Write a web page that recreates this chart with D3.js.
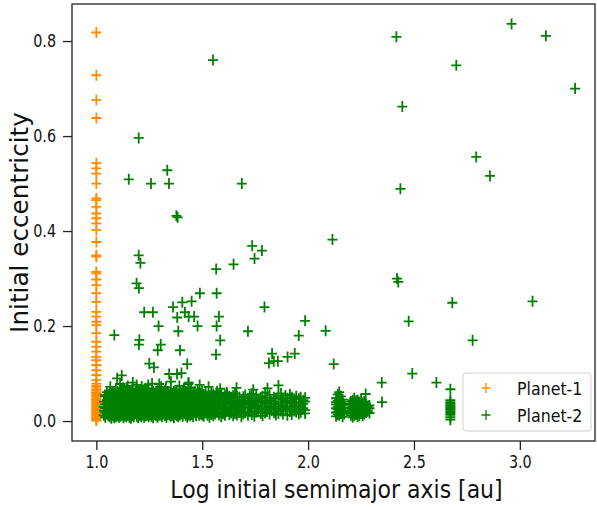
<!DOCTYPE html>
<html>
<head>
<meta charset="utf-8">
<script src="https://cdn.jsdelivr.net/npm/d3@7"></script>
<style>
  body { margin: 0; background: #fff; }
  svg { display: block; font-family: "DejaVu Sans", sans-serif; }
</style>
</head>
<body>
<div id="wrapper"></div>
<script>
// tick values
const xTicks = [1.0, 1.5, 2.0, 2.5, 3.0]
const yTicks = [0.0, 0.2, 0.4, 0.6, 0.8]

// Planet-1: all at log a = 1.0, eccentricities
const p1X = 1.0
const p1Ecc = [0.818, 0.728, 0.676, 0.638, 0.543, 0.532, 0.521, 0.500, 0.469, 0.465,
  0.451, 0.437, 0.427, 0.416, 0.402, 0.377, 0.349, 0.346, 0.314, 0.311, 0.298, 0.286,
  0.269, 0.251, 0.230, 0.220, 0.209, 0.202, 0.185, 0.167, 0.156, 0.146, 0.135, 0.128,
  0.118, 0.107, 0.097, 0.086, 0.079, 0.074, 0.072, 0.067, 0.065, 0.061, 0.059, 0.056,
  0.053, 0.051, 0.047, 0.045, 0.043, 0.040, 0.037, 0.034, 0.032, 0.029, 0.027, 0.024,
  0.021, 0.019, 0.016, 0.013, 0.011, 0.008, 0.006, 0.003, 0.001]

// Planet-2: scattered points [log a, e]
const p2Scatter = [
  [1.200, 0.596], [1.153, 0.509], [1.258, 0.500], [1.335, 0.528], [1.343, 0.500],
  [1.378, 0.432], [1.384, 0.429], [1.551, 0.760], [1.687, 0.500], [1.736, 0.369],
  [1.782, 0.359], [1.747, 0.342], [1.648, 0.330], [1.566, 0.320], [1.200, 0.349],
  [1.208, 0.333], [1.190, 0.290], [1.201, 0.280], [1.489, 0.269], [1.568, 0.269],
  [1.406, 0.250], [1.450, 0.252], [1.362, 0.240], [1.794, 0.240], [1.226, 0.229],
  [1.267, 0.229], [1.418, 0.229], [1.382, 0.218], [1.436, 0.220], [1.462, 0.220],
  [1.579, 0.220], [1.986, 0.211], [1.294, 0.200], [1.478, 0.200], [1.568, 0.200],
  [1.387, 0.189], [1.716, 0.189], [1.085, 0.181], [1.956, 0.180], [1.203, 0.171],
  [1.201, 0.161], [1.304, 0.161], [1.585, 0.170], [1.290, 0.149], [1.395, 0.149],
  [1.565, 0.140], [1.830, 0.142], [1.937, 0.142], [1.903, 0.135], [1.250, 0.121],
  [1.272, 0.113], [1.344, 0.099], [1.381, 0.099], [1.402, 0.101], [1.429, 0.120],
  [1.098, 0.090], [1.120, 0.096], [1.436, 0.081], [1.297, 0.078], [1.434, 0.078],
  [1.543, 0.060], [1.618, 0.057], [1.190, 0.076], [1.245, 0.076], [1.041, 0.055],
  [2.961, 0.836], [3.123, 0.811], [2.417, 0.809], [2.700, 0.749], [3.261, 0.700],
  [2.445, 0.662], [2.794, 0.556], [2.859, 0.516], [2.436, 0.489], [2.115, 0.382],
  [2.420, 0.300], [2.426, 0.293], [2.681, 0.249], [3.060, 0.252], [2.475, 0.210],
  [2.083, 0.190], [2.777, 0.170], [2.121, 0.120], [1.860, 0.075], [2.348, 0.081],
  [2.492, 0.100], [2.606, 0.081], [2.349, 0.040], [1.815, 0.122], [1.838, 0.126],
  [1.857, 0.126], [2.272, 0.057], [2.672, 0.067]
]

// Planet-2: ragged top of the low-e band [log a, e]
const p2Upper = [
  [1.066, 0.072], [1.112, 0.078], [1.148, 0.074], [1.172, 0.081], [1.214, 0.073],
  [1.263, 0.079], [1.306, 0.072], [1.352, 0.083], [1.392, 0.074], [1.447, 0.071],
  [1.488, 0.076], [1.530, 0.072], [1.585, 0.068], [1.662, 0.070], [1.741, 0.066],
  [1.808, 0.069], [1.126, 0.070], [1.231, 0.069], [1.328, 0.071], [1.414, 0.068]
]

// Planet-2: dense low-e band, per column of log a, e in thousandths
const p2Band = [
  [1.035, "22 41 30 12"], [1.042, "35 18 52 27 8"], [1.050, "44 15 29 61 37 21"],
  [1.057, "11 33 48 25 56 39 19"], [1.063, "28 9 42 54 17 35 63"],
  [1.071, "38 22 14 47 58 30 6 51"], [1.078, "19 45 33 62 26 11 40 55"],
  [1.085, "31 7 49 24 58 16 38 44"], [1.092, "13 36 52 27 65 20 43 9"],
  [1.100, "41 25 18 57 33 11 48 62 29"], [1.107, "23 50 37 14 60 31 8 45"],
  [1.114, "34 17 55 28 42 63 10 21 47"], [1.121, "46 26 12 39 58 19 33 67"],
  [1.128, "15 38 53 29 7 44 22 61"], [1.135, "27 49 18 36 64 11 41 56 31"],
  [1.142, "40 21 57 33 9 48 16 70"], [1.149, "12 35 46 24 59 30 43 18 52"],
  [1.156, "29 54 17 41 8 63 36 22"], [1.163, "44 23 60 32 14 50 27 39 6"],
  [1.170, "18 37 52 26 66 11 45 31"], [1.177, "33 9 47 21 58 38 15 55 25"],
  [1.184, "51 28 16 42 62 35 20 46"], [1.191, "24 43 10 57 31 49 17 37 64"],
  [1.198, "39 19 53 28 7 45 34 60"], [1.205, "14 48 32 23 61 40 12 55 27"],
  [1.212, "42 26 58 16 35 50 9 30"], [1.219, "30 51 21 44 13 64 37 25 47"],
  [1.226, "55 18 39 27 48 8 33 62"], [1.233, "21 46 34 59 15 41 28 52 11"],
  [1.240, "36 12 50 25 68 43 19 31"], [1.247, "47 29 16 56 38 22 61 9 44"],
  [1.254, "26 53 35 13 45 30 58 18"], [1.261, "41 20 60 32 10 49 27 37 54"],
  [1.268, "17 44 29 57 23 38 7 63"], [1.275, "52 33 14 46 27 59 40 20 35"],
  [1.282, "28 48 19 37 62 11 43 25"], [1.289, "39 15 55 30 45 21 66 34 8"],
  [1.296, "24 50 36 17 58 41 29 12"], [1.303, "45 27 61 33 13 49 22 54 38"],
  [1.310, "19 42 31 56 26 9 47 35"], [1.317, "34 57 22 44 15 60 29 40"],
  [1.324, "48 16 38 27 53 32 11 64 43"], [1.331, "23 46 35 59 18 41 8 30"],
  [1.338, "37 20 52 28 45 14 62 33 50"], [1.345, "13 43 30 57 24 39 19 48"],
  [1.352, "50 26 40 16 61 32 46 10 35"], [1.359, "29 54 21 44 37 12 58 25"],
  [1.366, "42 18 33 63 27 49 7 39"], [1.373, "22 47 36 14 55 31 44 19 60"],
  [1.380, "35 11 51 28 42 24 65 16"], [1.387, "46 30 20 57 38 9 49 33"],
  [1.394, "17 40 27 61 45 22 53 13 36"], [1.401, "31 55 41 15 26 48 37 59"],
  [1.408, "44 21 34 62 29 10 51 25"], [1.415, "25 49 16 38 57 33 43 19"],
  [1.422, "39 12 52 27 46 21 63 31"], [1.429, "53 34 24 44 15 58 8 37"],
  [1.436, "20 45 30 60 36 13 50 27"], [1.443, "33 56 18 41 26 48 11 62"],
  [1.450, "47 23 39 14 54 31 43"], [1.457, "16 40 58 28 35 9 50 22"],
  [1.464, "38 26 48 19 61 33 44"], [1.471, "52 14 30 42 24 57 36 11"],
  [1.478, "27 45 18 55 38 31 64"], [1.485, "41 22 60 33 12 49 28"],
  [1.492, "19 50 35 26 44 58 15"], [1.499, "34 46 13 39 24 62 30"],
  [1.507, "45 21 56 31 10"], [1.516, "27 50 17 38 62"], [1.525, "39 12 48 25"],
  [1.534, "18 43 33 54 8"], [1.543, "47 29 14 37"], [1.552, "32 57 20 41 11"],
  [1.561, "24 44 36 15"], [1.570, "50 19 29 63"], [1.579, "13 41 30 53"],
  [1.590, "35 58 24 9"], [1.598, "28 16 47 37"], [1.607, "42 26 55 12"],
  [1.616, "20 47 31 60"], [1.628, "36 14 52 25"], [1.637, "49 23 40 17"],
  [1.646, "27 54 11 35"], [1.655, "16 38 58 29"], [1.664, "43 25 36 13 52"],
  [1.676, "31 50 19 41"], [1.685, "22 45 34 9"], [1.694, "40 15 51 28"],
  [1.703, "55 30 18 43"], [1.716, "26 48 38 12"], [1.725, "35 20 52 29"],
  [1.734, "14 42 31 57"], [1.746, "46 27 37 10"], [1.755, "30 56 19 41"],
  [1.764, "21 44 33"], [1.776, "39 16 48 28"], [1.785, "52 25 11 42"],
  [1.797, "17 38 60 27"], [1.806, "33 49 20"], [1.818, "44 28 55 15"],
  [1.827, "23 41 31"], [1.839, "36 18 50 27"], [1.848, "48 30 13"],
  [1.860, "26 53 35 16"], [1.872, "40 21 58"], [1.881, "15 45 33 24"],
  [1.893, "54 27 42"], [1.902, "31 48 12 39"], [1.914, "43 20 56"],
  [1.923, "24 37 14 50"], [1.935, "46 33 21"], [1.944, "19 52 29 40"],
  [1.956, "38 25 15 47"], [1.965, "50 32 18"], [1.977, "27 44 36"],
  [1.986, "41 16 49 23"],
  [2.132, "18 35 27 48 10 40"], [2.140, "25 56 31 14 43 20"],
  [2.147, "38 22 61 29 12 47"], [2.155, "16 33 52 24 40"],
  [2.163, "28 45 19 36 9"], [2.171, "34 21 26 15"],
  [2.202, "22 35 12 41 28 17"], [2.210, "30 8 44 24 19 37"],
  [2.218, "15 27 39 33 11 48"], [2.226, "36 20 29 14 42"],
  [2.234, "25 44 18 31 9 38"], [2.242, "12 33 21 40 27"],
  [2.250, "29 16 36 24 46"], [2.258, "19 38 27 11 32"],
  [2.266, "30 22 41 15"], [2.274, "24 35 18 29"],
  [2.282, "21 31 26"], [2.290, "27 17 33"],
  [2.672, "44 40 36 33 30 27 24 21 17 13 8 3"]
]

const seriesNames = ["Planet-1", "Planet-2"]
const seriesColors = ["#ff8c00", "#008000"]

function drawScatter() {
  const planet1 = p1Ecc.map(e => ({ x: p1X, e: e }))
  const planet2 = p2Scatter.concat(p2Upper).map(d => ({ x: d[0], e: d[1] }))
    .concat(p2Band.flatMap(([x, s]) => s.split(" ").map(v => ({ x: x, e: +v / 1000 }))))

  const xAccessor = d => d.x
  const yAccessor = d => d.e

  let dimensions = {
    width: 597,
    height: 507,
    margin: { top: 4, right: 2, bottom: 66, left: 72 },
  }
  dimensions.boundedWidth = dimensions.width - dimensions.margin.left - dimensions.margin.right
  dimensions.boundedHeight = dimensions.height - dimensions.margin.top - dimensions.margin.bottom

  const squeeze = 0.88  // text in the reference is slightly narrow

  const wrapper = d3.select("#wrapper").append("svg")
    .attr("width", dimensions.width)
    .attr("height", dimensions.height)

  const bounds = wrapper.append("g")
    .attr("transform", `translate(${dimensions.margin.left},${dimensions.margin.top})`)

  const xScale = d3.scaleLinear()
    .domain([0.885, 3.355])
    .range([0, dimensions.boundedWidth])

  const yScale = d3.scaleLinear()
    .domain([-0.042, 0.878])
    .range([dimensions.boundedHeight, 0])

  const plus = (hw, hh) => `M${-hw},0H${hw}M0,${-hh}V${hh}`

  // points
  const drawSeries = (data, color) => {
    bounds.append("g").selectAll("path")
      .data(data)
      .join("path")
      .attr("transform", d => `translate(${xScale(xAccessor(d))},${yScale(yAccessor(d))})`)
      .attr("d", plus(5, 5.5))
      .attr("fill", "none")
      .attr("stroke", color)
      .attr("stroke-width", 1.8)
  }
  drawSeries(planet1, seriesColors[0])
  drawSeries(planet2, seriesColors[1])

  // axes
  const xAxisGenerator = d3.axisBottom(xScale)
    .tickValues(xTicks)
    .tickFormat(d3.format(".1f"))
    .tickSize(9)
    .tickSizeOuter(0)
    .tickPadding(6)

  const xAxis = bounds.append("g")
    .attr("transform", `translate(0,${dimensions.boundedHeight})`)
    .call(xAxisGenerator)

  const yAxisGenerator = d3.axisLeft(yScale)
    .tickValues(yTicks)
    .tickFormat(d3.format(".1f"))
    .tickSize(9)
    .tickSizeOuter(0)
    .tickPadding(7)

  const yAxis = bounds.append("g")
    .call(yAxisGenerator)

  const tickSqueeze = 0.82
  for (const ax of [xAxis, yAxis]) {
    ax.select(".domain").remove()
    ax.selectAll(".tick line").attr("stroke", "#222").attr("stroke-width", 1.3)
    ax.selectAll(".tick text")
      .attr("fill", "#111")
      .style("font-size", "17.5px")
      .style("font-family", "DejaVu Sans")
  }
  xAxis.selectAll(".tick text").attr("transform", `scale(${tickSqueeze},1)`)
  yAxis.selectAll(".tick text").each(function() {
    const t = d3.select(this)
    const x0 = +t.attr("x")
    t.attr("x", x0 / tickSqueeze).attr("transform", `scale(${tickSqueeze},1)`)
  })

  // frame
  bounds.append("rect")
    .attr("width", dimensions.boundedWidth)
    .attr("height", dimensions.boundedHeight)
    .attr("fill", "none")
    .attr("stroke", "#222")
    .attr("stroke-width", 1.3)

  // axis labels
  wrapper.append("text")
    .attr("transform", `translate(${dimensions.margin.left + dimensions.boundedWidth / 2 + 3},498) scale(${squeeze},1)`)
    .attr("text-anchor", "middle")
    .style("font-size", "25px")
    .attr("fill", "#111")
    .text("Log initial semimajor axis [au]")

  wrapper.append("text")
    .attr("transform", `translate(28,${dimensions.margin.top + dimensions.boundedHeight / 2}) rotate(-90)`)
    .attr("text-anchor", "middle")
    .style("font-size", "24.7px")
    .attr("fill", "#111")
    .text("Initial eccentricity")

  // legend
  const legend = wrapper.append("g")
    .attr("transform", "translate(463,373)")

  legend.append("rect")
    .attr("width", 128)
    .attr("height", 58)
    .attr("rx", 3)
    .attr("fill", "#fff")
    .attr("fill-opacity", 0.8)
    .attr("stroke", "#d0d0d0")

  seriesNames.forEach((name, i) => {
    const row = legend.append("g")
      .attr("transform", `translate(0,${15 + i * 27})`)
    row.append("path")
      .attr("transform", "translate(23,0)")
      .attr("d", plus(4.5, 5))
      .attr("fill", "none")
      .attr("stroke", seriesColors[i])
      .attr("stroke-width", 1.3)
    row.append("text")
      .attr("transform", `translate(54,6.5) scale(${squeeze},1)`)
      .style("font-size", "18px")
      .attr("fill", "#111")
      .text(name)
  })
}

drawScatter()
</script>
</body>
</html>
